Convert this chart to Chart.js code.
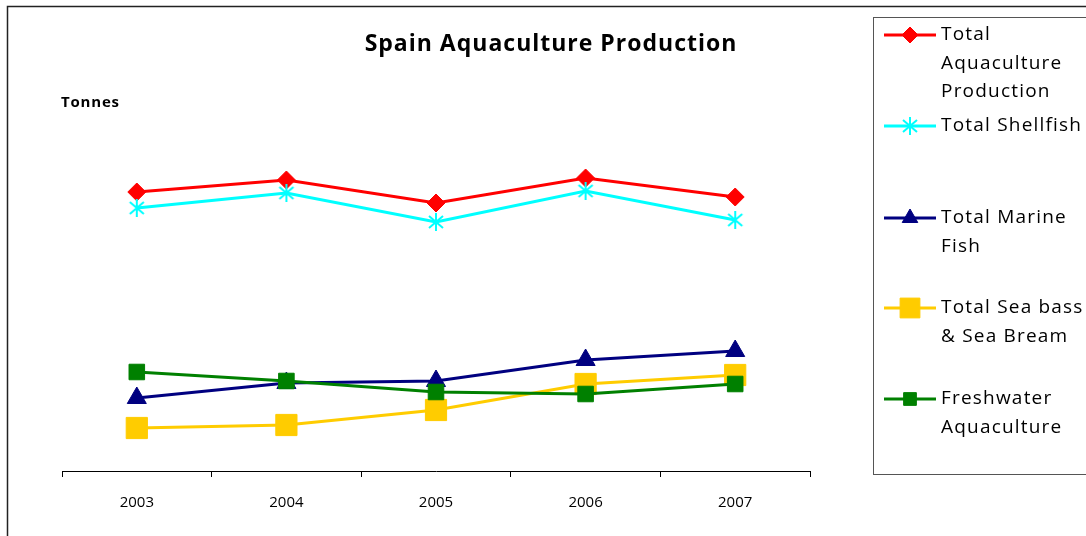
<!DOCTYPE html>
<html>
<head>
<meta charset="utf-8">
<script src="https://cdn.jsdelivr.net/npm/chart.js@4.4.1/dist/chart.umd.min.js"></script>
<style>
html, body { margin: 0; padding: 0; background: #fff; }
canvas { display: block; }
</style>
</head>
<body>
<canvas id="graph" width="1086" height="536"></canvas>
<script>
// data (tonnes)
var years = ['2003', '2004', '2005', '2006', '2007'];
var totalAqua = [279000, 291000, 268000, 293000, 274000];
var totalShellfish = [263000, 278000, 249000, 280000, 251000];
var totalMarineFish = [73000, 88000, 90000, 111000, 120000];
var seaBassBream = [43000, 46000, 61000, 87000, 96000];
var freshwater = [99000, 90000, 79000, 77000, 87000];

var seriesNames = [
  ['Total', 'Aquaculture', 'Production'],
  ['Total Shellfish'],
  ['Total Marine', 'Fish'],
  ['Total Sea bass', '& Sea Bream'],
  ['Freshwater', 'Aquaculture']
];
var seriesColors = ['#ff0000', '#00ffff', '#000080', '#ffcc00', '#008000'];

// 6 arm asterisk like the excel marker
function makeStar(col) {
  var c = document.createElement('canvas');
  c.width = 20; c.height = 20;
  var g = c.getContext('2d');
  g.strokeStyle = col;
  g.lineWidth = 2;
  g.beginPath();
  g.moveTo(10, 1); g.lineTo(10, 19);
  g.moveTo(3, 4); g.lineTo(17, 16);
  g.moveTo(17, 4); g.lineTo(3, 16);
  g.stroke();
  return c;
}

var seriesMarks = ['rectRot', makeStar('#00ffff'), 'triangle', 'rect', 'rect'];
var markSizes = [9, 9, 11, 15, 11];
var legendSizes = [8, 9, 9, 14, 9];
var seriesData = [totalAqua, totalShellfish, totalMarineFish, seaBassBream, freshwater];

var sets = [];
for (var i = 0; i < seriesData.length; i++) {
  sets.push({
    label: seriesNames[i].join(' '),
    data: seriesData[i],
    borderColor: seriesColors[i],
    backgroundColor: seriesColors[i],
    borderWidth: 3,
    pointStyle: seriesMarks[i],
    pointRadius: markSizes[i],
    pointBorderWidth: 1,
    pointBorderColor: seriesColors[i],
    pointBackgroundColor: seriesColors[i],
    tension: 0,
    order: seriesData.length - i
  });
}

var overlay = {
  id: 'overlay',
  beforeDraw: function(chart) {
    var ctx = chart.ctx;
    ctx.save();
    ctx.strokeStyle = '#222';
    ctx.lineWidth = 1.5;
    ctx.strokeRect(7.5, 6.5, 1200, 600);
    ctx.restore();
  },
  afterDraw: function(chart) {
    var ctx = chart.ctx;
    ctx.save();
    ctx.fillStyle = '#000';
    ctx.textBaseline = 'middle';
    ctx.textAlign = 'center';
    ctx.letterSpacing = '1px';
    ctx.font = 'bold 23px "Open Sans"';
    ctx.fillText('Spain Aquaculture Production', 551, 44);
    ctx.textAlign = 'left';
    ctx.letterSpacing = '0.8px';
    ctx.font = 'bold 15px "Open Sans"';
    ctx.fillText('Tonnes', 61, 103);

    // legend
    ctx.strokeStyle = '#555';
    ctx.lineWidth = 1;
    ctx.strokeRect(873.5, 17.5, 300, 457);
    var rowY = [35, 126, 218, 308, 399];
    ctx.letterSpacing = '1.2px';
    ctx.font = '19px "Open Sans"';
    for (var i = 0; i < sets.length; i++) {
      var y = rowY[i];
      ctx.strokeStyle = seriesColors[i];
      ctx.lineWidth = 3;
      ctx.beginPath();
      ctx.moveTo(884, y);
      ctx.lineTo(936, y);
      ctx.stroke();
      ctx.fillStyle = seriesColors[i];
      ctx.lineWidth = 1;
      Chart.helpers.drawPoint(ctx, {pointStyle: seriesMarks[i], radius: legendSizes[i], rotation: 0, borderWidth: 1}, 910, y);
      ctx.fillStyle = '#000';
      for (var k = 0; k < seriesNames[i].length; k++) {
        ctx.fillText(seriesNames[i][k], 941, y + k * 28.5);
      }
    }
    ctx.restore();
  }
};

new Chart(document.getElementById('graph'), {
  type: 'line',
  data: { labels: years, datasets: sets },
  options: {
    responsive: false,
    animation: false,
    layout: { padding: { left: 62, right: 276, top: 71, bottom: 0 } },
    plugins: {
      legend: { display: false },
      title: { display: false },
      tooltip: { enabled: false }
    },
    scales: {
      x: {
        offset: true,
        grid: { display: true, offset: true, drawOnChartArea: false, drawTicks: true, tickLength: 6, color: '#000' },
        border: { display: true, color: '#000', width: 1 },
        ticks: { color: '#000', font: { family: 'Open Sans', size: 15 }, padding: 17, maxRotation: 0 },
        afterFit: function(s) { s.height = 65; }
      },
      y: { display: false, min: 0, max: 400000 }
    }
  },
  plugins: [overlay]
});
</script>
</body>
</html>
